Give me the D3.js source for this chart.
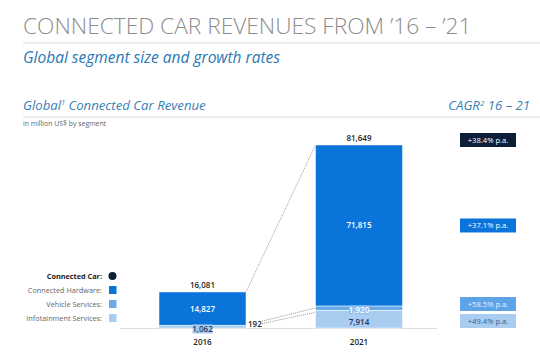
<!DOCTYPE html>
<html>
<head>
<meta charset="utf-8">
<script src="https://cdn.jsdelivr.net/npm/d3@7"></script>
<style>
  body { margin: 0; background: #fff; }
  text { font-family: "Open Sans", sans-serif; }
</style>
</head>
<body>
<div id="chart"></div>
<script>
var width = 540;
var height = 359;

// data
var years = ["2016", "2021"];
var hardware = [14827, 71815];
var vehicle = [192, 1920];
var infotainment = [1062, 7914];
var totals = [16081, 81649];
var cagrLabels = ["+38.4% p.a.", "+37.1% p.a.", "+58.5% p.a.", "+49.4% p.a."];
var legendLabels = ["Connected Car:", "Connected Hardware:", "Vehicle Services:", "Infotainment Services:"];

var colors = {
  car: "#0c1e38",
  hardware: "#0a74da",
  vehicle: "#6aaae8",
  infotainment: "#a9cdf1"
};

var svg = d3.select("#chart").append("svg")
  .attr("width", width)
  .attr("height", height);

// header
svg.append("text")
  .attr("x", 23).attr("y", 34)
  .attr("font-size", 22.7).attr("font-weight", 300)
  .attr("fill", "#8c8c8c")
  .text("CONNECTED CAR REVENUES FROM \u201916 \u2013 \u201921");
svg.append("line")
  .attr("x1", 23).attr("x2", 540).attr("y1", 43).attr("y2", 43)
  .attr("stroke", "#dcdcdc");
svg.append("text")
  .attr("x", 23).attr("y", 63)
  .attr("font-size", 15.5).attr("font-style", "italic")
  .attr("fill", "#2b78b5")
  .text("Global segment size and growth rates");

svg.append("text")
  .attr("x", 23).attr("y", 110)
  .attr("font-size", 13.2).attr("font-style", "italic")
  .attr("fill", "#3a7fb5")
  .text("Global")
  .append("tspan").attr("font-size", 7).attr("dy", -5).text("1")
  .select(function() { return this.parentNode; })
  .append("tspan").attr("dy", 5).text(" Connected Car Revenue");

svg.append("text")
  .attr("x", 530).attr("y", 110)
  .attr("text-anchor", "end")
  .attr("font-size", 13.2).attr("font-style", "italic")
  .attr("fill", "#3a7fb5")
  .text("CAGR")
  .append("tspan").attr("font-size", 8).attr("dy", -4).text("2")
  .select(function() { return this.parentNode; })
  .append("tspan").attr("dy", 4).text(" 16 \u2013 21");

svg.append("line")
  .attr("x1", 23).attr("x2", 540).attr("y1", 117).attr("y2", 117)
  .attr("stroke", "#dcdcdc");
svg.append("text")
  .attr("x", 23).attr("y", 126)
  .attr("font-size", 6.9).attr("fill", "#666")
  .text("in million US$ by segment");

// scales
var barWidth = 87;
var xScale = d3.scalePoint().domain(years).range([202.5, 359]);
var yScale = d3.scaleLinear().domain([0, 81649]).range([328, 145]);

var rows = years.map(function(y, i) {
  return { year: y, infotainment: infotainment[i], vehicle: vehicle[i], hardware: hardware[i] };
});
var keys = ["infotainment", "vehicle", "hardware"];
var series = d3.stack().keys(keys)(rows);

// baseline
svg.append("line")
  .attr("x1", 120).attr("x2", 437)
  .attr("y1", yScale(0) + 0.5).attr("y2", yScale(0) + 0.5)
  .attr("stroke", "#dedede");

// dotted connectors
var conn = svg.append("g")
  .attr("fill", "none").attr("stroke", "#9a9a9a")
  .attr("stroke-width", 1).attr("stroke-dasharray", "1,1");
conn.append("line")
  .attr("x1", xScale("2016") + barWidth / 2).attr("y1", yScale(totals[0]))
  .attr("x2", xScale("2021") - barWidth / 2).attr("y2", yScale(totals[1]));
conn.append("line")
  .attr("x1", xScale("2016") + barWidth / 2 + 16).attr("y1", yScale(infotainment[0] + vehicle[0]) - 4)
  .attr("x2", xScale("2021") - barWidth / 2).attr("y2", yScale(infotainment[1] + vehicle[1]) + 2);
conn.append("line")
  .attr("x1", xScale("2016") + barWidth / 2 + 16).attr("y1", yScale(infotainment[0]) - 2)
  .attr("x2", xScale("2021") - barWidth / 2).attr("y2", yScale(infotainment[1]) + 2);

// bars
svg.selectAll("g.layer").data(series).enter()
  .append("g").attr("class", "layer")
  .attr("fill", function(d) { return colors[d.key]; })
  .selectAll("rect").data(function(d) { return d; }).enter()
  .append("rect")
  .attr("x", function(d) { return xScale(d.data.year) - barWidth / 2; })
  .attr("y", function(d) { return yScale(d[1]); })
  .attr("width", barWidth)
  .attr("height", function(d) { return yScale(d[0]) - yScale(d[1]); })
  .attr("stroke", "#fff").attr("stroke-width", 0.5);

var fmt = d3.format(",");

// totals
svg.selectAll("text.total").data(years).enter()
  .append("text").attr("class", "total")
  .attr("x", function(d) { return xScale(d); })
  .attr("y", function(d, i) { return yScale(totals[i]) - 4; })
  .attr("text-anchor", "middle")
  .attr("font-size", 8).attr("font-weight", 600).attr("fill", "#222")
  .text(function(d, i) { return fmt(totals[i]); });

// hardware labels
svg.selectAll("text.hw").data(years).enter()
  .append("text").attr("class", "hw")
  .attr("x", function(d) { return xScale(d); })
  .attr("y", function(d, i) { return yScale(infotainment[i] + vehicle[i] + hardware[i] / 2) + 3; })
  .attr("text-anchor", "middle")
  .attr("font-size", 8).attr("font-weight", 600).attr("fill", "#fff")
  .text(function(d, i) { return fmt(hardware[i]); });

// 2016 small segment labels
var x16 = xScale("2016");
svg.append("rect")
  .attr("x", x16 - 10).attr("y", 324.5).attr("width", 20).attr("height", 9)
  .attr("fill", colors.infotainment);
svg.append("text")
  .attr("x", x16).attr("y", 332)
  .attr("text-anchor", "middle")
  .attr("font-size", 8).attr("font-weight", 600).attr("fill", "#1b3a5c")
  .text(fmt(infotainment[0]));
svg.append("text")
  .attr("x", x16 + barWidth / 2 + 2).attr("y", 327)
  .attr("font-size", 8).attr("font-weight", 600).attr("fill", "#222")
  .text(fmt(vehicle[0]));

// 2021 small segment labels
var x21 = xScale("2021");
svg.append("rect")
  .attr("x", x21 - 10).attr("y", 305.5).attr("width", 20).attr("height", 8.5)
  .attr("fill", "#8fc0ee");
svg.append("text")
  .attr("x", x21).attr("y", 312.5)
  .attr("text-anchor", "middle")
  .attr("font-size", 8).attr("font-weight", 600).attr("fill", "#fff")
  .text(fmt(vehicle[1]));
svg.append("text")
  .attr("x", x21).attr("y", 324.5)
  .attr("text-anchor", "middle")
  .attr("font-size", 8).attr("font-weight", 600).attr("fill", "#1b3a5c")
  .text(fmt(infotainment[1]));

// year labels
svg.selectAll("text.year").data(years).enter()
  .append("text").attr("class", "year")
  .attr("x", function(d) { return xScale(d); })
  .attr("y", 345)
  .attr("text-anchor", "middle")
  .attr("font-size", 8).attr("font-weight", 600).attr("fill", "#222")
  .text(function(d) { return d; });

// CAGR boxes
var boxW = 56, boxH = 14, boxX = 460;
var boxTop = [
  yScale(totals[1]) - 12,
  yScale(infotainment[1] + vehicle[1] + hardware[1] / 2) - 7,
  yScale(0) - 2 * boxH - 3,
  yScale(0) - boxH
];
var boxFill = [colors.car, colors.hardware, "#5ea3e6", colors.infotainment];
var boxText = ["#fff", "#fff", "#e4f0fc", "#2f5f95"];
var cagr = svg.selectAll("g.cagr").data(cagrLabels).enter()
  .append("g").attr("class", "cagr")
  .attr("transform", function(d, i) { return "translate(" + boxX + "," + boxTop[i] + ")"; });
cagr.append("rect")
  .attr("width", boxW).attr("height", boxH)
  .attr("fill", function(d, i) { return boxFill[i]; });
cagr.append("text")
  .attr("x", boxW / 2).attr("y", 9.7)
  .attr("text-anchor", "middle")
  .attr("font-size", 7.6).attr("fill", function(d, i) { return boxText[i]; })
  .text(function(d) { return d; });

// legend
var legendY = [276, 290, 304, 318];
var legend = svg.selectAll("g.legend").data(legendLabels).enter()
  .append("g").attr("class", "legend")
  .attr("transform", function(d, i) { return "translate(0," + legendY[i] + ")"; });
legend.append("text")
  .attr("x", 102).attr("y", 2.5)
  .attr("text-anchor", "end")
  .attr("font-size", 7.3)
  .attr("font-weight", function(d, i) { return i === 0 ? 700 : 400; })
  .attr("fill", function(d, i) { return i === 0 ? "#222" : "#666"; })
  .text(function(d) { return d; });
legend.filter(function(d, i) { return i === 0; })
  .append("circle").attr("cx", 112.5).attr("cy", 0).attr("r", 4)
  .attr("fill", colors.car);
legend.filter(function(d, i) { return i > 0; })
  .append("rect").attr("x", 109).attr("y", -4).attr("width", 7.5).attr("height", 8)
  .attr("fill", function(d, i) { return [colors.hardware, colors.vehicle, colors.infotainment][i]; });
</script>
</body>
</html>
